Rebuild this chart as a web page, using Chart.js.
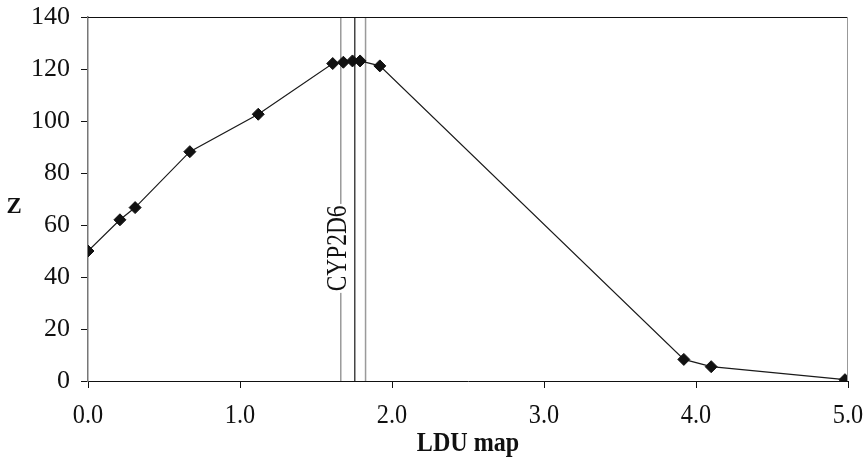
<!DOCTYPE html>
<html>
<head>
<meta charset="utf-8">
<script src="https://cdn.jsdelivr.net/npm/chart.js@4.4.1/dist/chart.umd.min.js"></script>
<style>
  body { margin: 0; background: #fff; }
  #wrap { width: 867px; height: 467px; position: relative; }
</style>
</head>
<body>
<div id="wrap"><canvas id="ldu"></canvas></div>
<script>
// z score along the LDU map
const ldu = [0, 0.21, 0.31, 0.67, 1.12, 1.61, 1.68, 1.74, 1.79, 1.92, 3.92, 4.10, 4.98];
const zval = [50, 62, 66.7, 88.2, 102.6, 122.1, 122.6, 123.1, 123.1, 121.2, 8.3, 5.5, 0.5];

// gene boundaries (outer) and gene position (middle)
const geneLines = [1.663, 1.755, 1.826];
const geneColors = ['#9a9a9a', '#444444', '#9a9a9a'];
const geneName = 'CYP2D6';
const geneLabelAt = { x: 1.637, y: 51 };

const xTicks = [0, 1, 2, 3, 4, 5];
const yTicks = [0, 20, 40, 60, 80, 100, 120, 140];

const serif = '"Liberation Serif", "Times New Roman", serif';

// narrow serif text, the way the axis labels are set
function condensed(ctx, text, px, py, font, sx) {
    ctx.save();
    ctx.fillStyle = '#111';
    ctx.textAlign = 'center';
    ctx.textBaseline = 'middle';
    ctx.font = font;
    ctx.translate(px, py);
    ctx.scale(sx, 1);
    ctx.fillText(text, 0, 0);
    ctx.restore();
}

// white-backed rotated gene label, frame lines, x tick labels and axis titles
const extras = {
    id: 'extras',
    afterDatasetsDraw(chart) {
        const { ctx, chartArea: { top, bottom, left, right }, scales: { x, y } } = chart;
        ctx.save();
        // frame: black top, grey right
        ctx.lineWidth = 1;
        ctx.strokeStyle = '#111';
        ctx.beginPath();
        ctx.moveTo(left, top + 0.5);
        ctx.lineTo(right, top + 0.5);
        ctx.stroke();
        ctx.strokeStyle = '#999';
        ctx.beginPath();
        ctx.moveTo(right - 0.5, top);
        ctx.lineTo(right - 0.5, bottom);
        ctx.stroke();

        // gene label
        const gx = x.getPixelForValue(geneLabelAt.x);
        const gy = y.getPixelForValue(geneLabelAt.y);
        ctx.translate(gx, gy);
        ctx.rotate(-Math.PI / 2);
        ctx.scale(0.78, 1);
        ctx.font = '30px ' + serif;
        ctx.textAlign = 'center';
        ctx.textBaseline = 'middle';
        const w = ctx.measureText(geneName).width;
        ctx.fillStyle = '#fff';
        ctx.fillRect(-w / 2 - 2, -11, w + 4, 22);
        ctx.fillStyle = '#111';
        ctx.fillText(geneName, 0, 1);
        ctx.restore();

        // x tick labels, in the band under the axis
        xTicks.forEach(v => {
            condensed(ctx, v.toFixed(1), x.getPixelForValue(v), 416, '27px ' + serif, 0.9);
        });

        // axis titles
        condensed(ctx, 'Z', 14, 207, 'bold 24px ' + serif, 0.95);
        condensed(ctx, 'LDU map', (left + right) / 2, 444, 'bold 28px ' + serif, 0.86);
    }
};

const datasets = geneLines.map((g, i) => ({
    data: [{ x: g, y: 0 }, { x: g, y: 140 }],
    borderColor: geneColors[i],
    borderWidth: 1.5,
    pointRadius: 0,
    order: 2
}));
datasets.push({
    data: ldu.map((v, i) => ({ x: v, y: zval[i] })),
    borderColor: '#1a1a1a',
    borderWidth: 1.2,
    pointStyle: 'rectRot',
    pointRadius: 6,
    pointBackgroundColor: '#111',
    pointBorderColor: '#111',
    pointBorderWidth: 1,
    order: 1
});

new Chart(document.getElementById('ldu'), {
    type: 'line',
    data: { datasets },
    options: {
        responsive: true,
        maintainAspectRatio: false,
        animation: false,
        events: [],
        layout: { padding: { top: 17, right: 19, left: 0, bottom: 0 } },
        plugins: { legend: { display: false }, tooltip: { enabled: false } },
        scales: {
            x: {
                type: 'linear',
                min: 0, max: 5,
                afterFit: s => { s.height = 86; s.paddingLeft = 0; s.paddingRight = 0; },
                afterBuildTicks: s => { s.ticks = xTicks.map(v => ({ value: v })); },
                ticks: { display: false },
                grid: { drawOnChartArea: false, drawTicks: true, tickLength: 7, color: '#111' },
                border: { display: true, color: '#111', width: 1 }
            },
            y: {
                type: 'linear',
                min: 0, max: 140,
                afterFit: s => { s.width = 88; s.paddingTop = 0; s.paddingBottom = 0; },
                afterBuildTicks: s => { s.ticks = yTicks.map(v => ({ value: v })); },
                ticks: {
                    color: '#111',
                    padding: 11,
                    font: { family: serif, size: 26 }
                },
                grid: { drawOnChartArea: false, drawTicks: true, tickLength: 7, color: '#111' },
                border: { display: true, color: '#777', width: 1.5 }
            }
        }
    },
    plugins: [extras]
});
</script>
</body>
</html>
